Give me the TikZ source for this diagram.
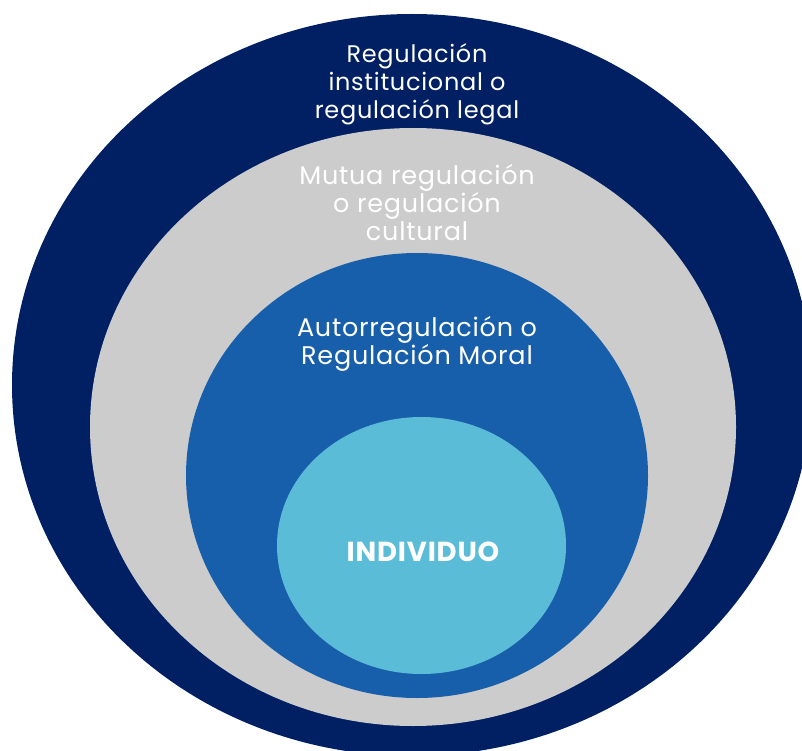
\documentclass[tikz,border=0pt]{standalone}
\usepackage{fontspec}
\setmainfont{Poppins}
\usetikzlibrary{shapes.geometric}
\definecolor{navy}{RGB}{0,32,99}
\definecolor{lightgrey}{RGB}{204,204,204}
\definecolor{midblue}{RGB}{23,94,171}
\definecolor{skyblue}{RGB}{91,188,216}
\tikzset{
	ring/.style={ellipse, inner sep=0pt, draw=none},
	label/.style={align=center, text=white, font=\fontsize{24}{28}\selectfont\addfontfeatures{LetterSpace=3}},
	biglabel/.style={label, font=\fontsize{25.5}{28}\selectfont\addfontfeatures{LetterSpace=3}}
}
\begin{document}
\begin{tikzpicture}[x=1pt, y=-1pt]
	\useasboundingbox (0,0) rectangle (802,751);
	\clip (0,0) rectangle (802,751);
	% rings, outside in
	\node[ring, fill=navy, minimum width=800pt, minimum height=742pt] (outer) at (412,385) {};
	\node[ring, fill=lightgrey, minimum width=646pt, minimum height=598pt] (mutual) at (413,427) {};
	\node[ring, fill=midblue, minimum width=462pt, minimum height=445pt] (self) at (417,475.5) {};
	\node[ring, fill=skyblue, minimum width=289pt, minimum height=257pt] (core) at (421.5,545.5) {};

	\node[label] (legal) at (417,84) {Regulación\\institucional o\\regulación legal};
	\node[biglabel] (cultural) at (417,203) {Mutua regulación\\o regulación\\cultural};
	\node[biglabel] (moral) at (417,344) {Autorregulación o\\Regulación Moral};
	\node[label, font=\fontsize{27.5}{28}\selectfont\bfseries\addfontfeatures{LetterSpace=3}] (indiv) at (423,552) {INDIVIDUO};
\end{tikzpicture}
\end{document}
